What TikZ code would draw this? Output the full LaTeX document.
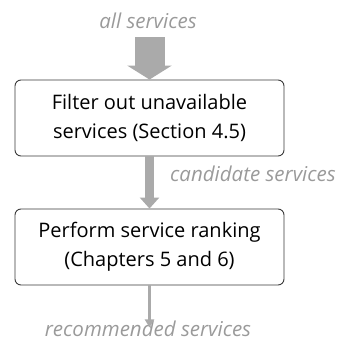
\documentclass[tikz,border=0pt]{standalone}
\usepackage{fontspec}
\setmainfont{Open Sans}
\usetikzlibrary{arrows.meta}
\usetikzlibrary{positioning}

\definecolor{flowgray}{HTML}{AAAAAA}
\definecolor{labelgray}{HTML}{9A9A9A}
\definecolor{boxline}{HTML}{3A3A3A}

\begin{document}
\begin{tikzpicture}[
    x = 1pt, y = 1pt,
    stage/.style = {
      draw = boxline, line width = 0.9pt, rounded corners = 6pt,
      fill = white,
      minimum width = 269pt, minimum height = 76pt,
      inner sep = 0pt, align = center,
      font = \fontsize{20}{29}\selectfont,
    },
    flow/.style = {
      text = labelgray, inner sep = 0pt, anchor = base,
      font = \fontsize{20.5}{24}\selectfont\itshape,
    },
  ]
  \useasboundingbox (0,0) rectangle (340,340);

  \node[flow] (all) at (148,311) {all services};
  \node[stage] (filter) at (149.5,222)
    {Filter out unavailable\\services (Section 4.5)};
  \node[stage] (rank) at (149.5,93)
    {Perform service ranking\\(Chapters 5 and 6)};
  \node[flow, anchor=base west] (cand) at (170,158) {candidate services};
  \node[flow] (rec) at (148,3.5) {recommended services};

  \draw[flowgray, line width = 30pt, -{Triangle[width=44pt, length=14pt]},
    shorten <= 8pt]
    (all.south -| filter.north) to (filter.north);
  \draw[flowgray, line width = 9pt, -{Triangle[width=19pt, length=11pt]}]
    (filter.south) to (rank.north);
  \draw[flowgray, line width = 3.5pt, -{Triangle[width=9pt, length=8pt]},
    shorten >= 9pt]
    (rank.south) to (rec.base -| rank.south);
\end{tikzpicture}
\end{document}
